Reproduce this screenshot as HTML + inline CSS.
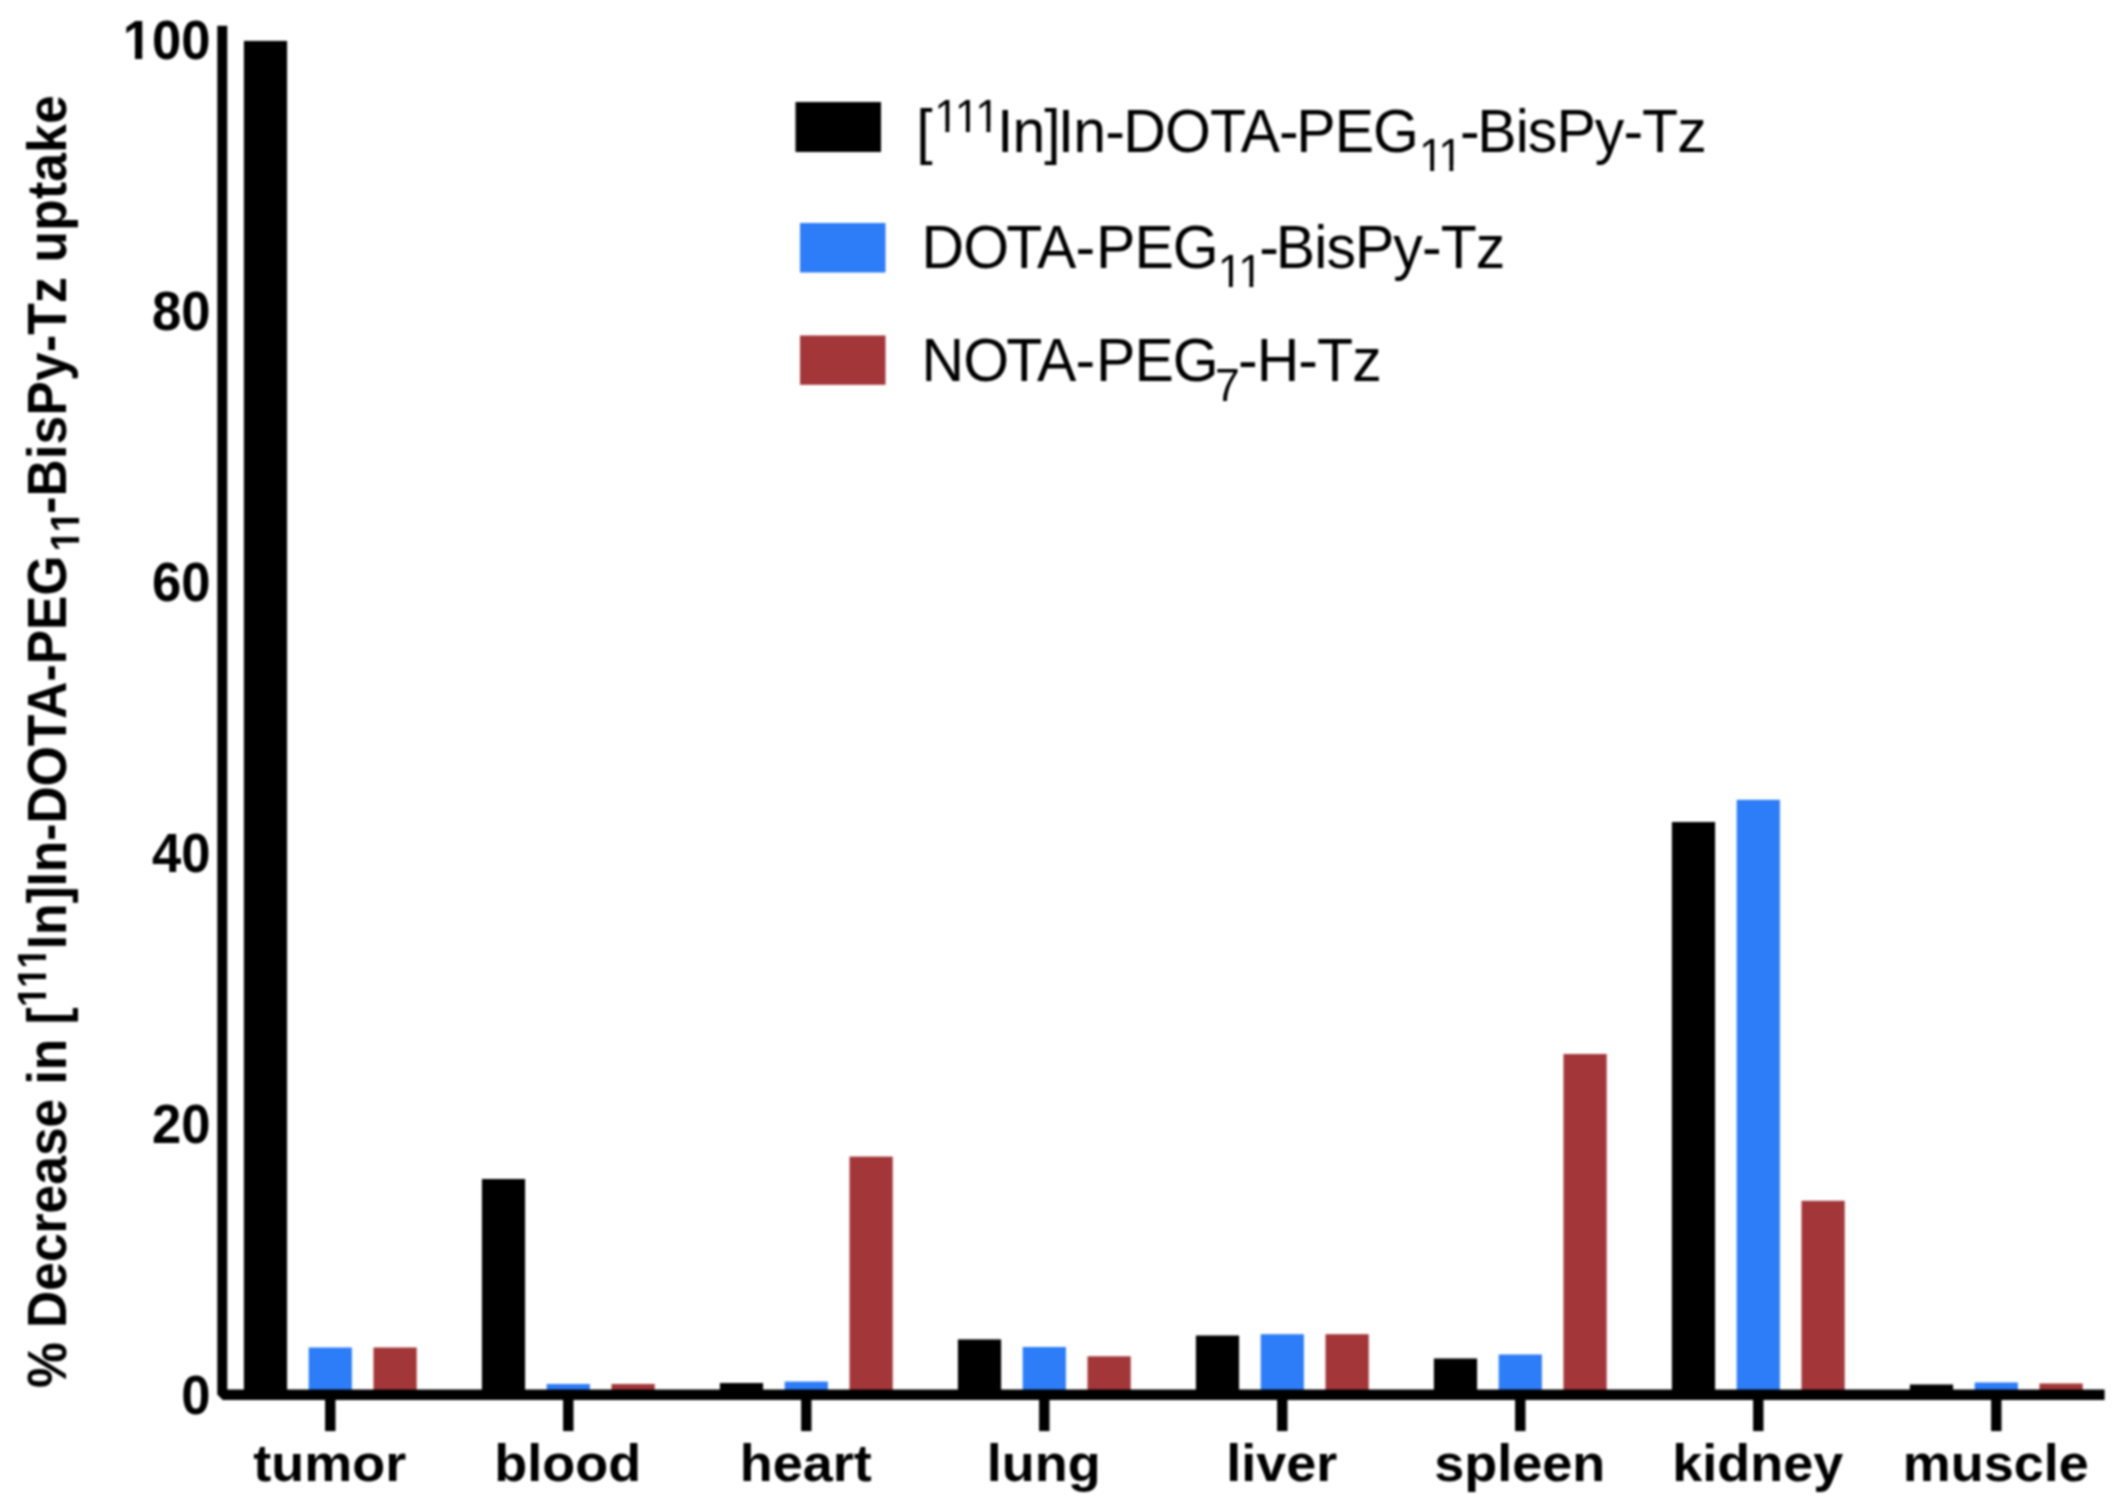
<!DOCTYPE html>
<html lang="en">
<head>
<meta charset="utf-8">
<title>% Decrease in [111In]In-DOTA-PEG11-BisPy-Tz uptake</title>
<style>
html,body{margin:0;padding:0;background:#fff;}
body{width:2123px;height:1511px;overflow:hidden;}
svg{display:block;filter:blur(1px);}
text{font-family:"Liberation Sans",Arial,Helvetica,sans-serif;fill:#000;}
.xl{font-size:54px;font-weight:bold;text-anchor:middle;}
.yl{font-size:52.6px;font-weight:bold;text-anchor:end;}
.lg{font-size:59px;letter-spacing:-0.93px;}
.ti{font-size:51.5px;font-weight:bold;}
</style>
</head>
<body>
<svg width="2123" height="1511" viewBox="0 0 2123 1511">
<rect x="0" y="0" width="2123" height="1511" fill="#fff"/>
<defs>
<clipPath id="c_t_y100"><path clip-rule="evenodd" d="M-4000,-4000H8000V8000H-4000Z M-85.95,-6.97H-75.48V1.50H-85.95Z M-68.27,-6.97H-58.47V1.50H-68.27Z"/></clipPath>
<clipPath id="c_t_title"><path clip-rule="evenodd" d="M-4000,-4000H8000V8000H-4000Z M381.61,-24.23H389.67V-17.20H381.61Z M394.95,-24.23H408.94V-17.20H394.95Z M414.22,-24.23H428.22V-17.20H414.22Z M433.50,-24.23H441.08V-17.20H433.50Z M837.38,6.97H845.44V14.00H837.38Z M850.72,6.97H864.71V14.00H850.72Z M869.99,6.97H877.56V14.00H869.99Z"/></clipPath>
<clipPath id="c_t_lg1"><path clip-rule="evenodd" d="M-4000,-4000H8000V8000H-4000Z M936.09,-23.56H945.39V-17.14H936.09Z M949.32,-23.56H965.89V-17.14H949.32Z M969.83,-23.56H986.40V-17.14H969.83Z M990.33,-23.56H999.28V-17.14H990.33Z M1420.89,13.82H1430.19V20.24H1420.89Z M1434.12,13.82H1449.42V20.24H1434.12Z M1453.35,13.82H1462.30V20.24H1453.35Z"/></clipPath>
<clipPath id="c_t_lg2"><path clip-rule="evenodd" d="M-4000,-4000H8000V8000H-4000Z M1219.59,13.82H1228.89V20.24H1219.59Z M1232.82,13.82H1249.39V20.24H1232.82Z M1253.33,13.82H1262.28V20.24H1253.33Z"/></clipPath>
</defs>
<g id="bars">
<rect x="243.9" y="40.9" width="43.2" height="1350.6" fill="#000"/>
<rect x="308.7" y="1347.5" width="43.2" height="44.0" fill="#2d7cf8"/>
<rect x="373.5" y="1347.5" width="43.2" height="44.0" fill="#a23639"/>
<rect x="481.9" y="1179.0" width="43.2" height="212.5" fill="#000"/>
<rect x="546.7" y="1384.0" width="43.2" height="7.5" fill="#2d7cf8"/>
<rect x="611.5" y="1384.0" width="43.2" height="7.5" fill="#a23639"/>
<rect x="719.9" y="1383.0" width="43.2" height="8.5" fill="#000"/>
<rect x="784.7" y="1381.6" width="43.2" height="9.9" fill="#2d7cf8"/>
<rect x="849.5" y="1156.6" width="43.2" height="234.9" fill="#a23639"/>
<rect x="957.9" y="1339.4" width="43.2" height="52.1" fill="#000"/>
<rect x="1022.7" y="1347.0" width="43.2" height="44.5" fill="#2d7cf8"/>
<rect x="1087.5" y="1356.3" width="43.2" height="35.2" fill="#a23639"/>
<rect x="1195.9" y="1335.5" width="43.2" height="56.0" fill="#000"/>
<rect x="1260.7" y="1334.2" width="43.2" height="57.3" fill="#2d7cf8"/>
<rect x="1325.5" y="1334.2" width="43.2" height="57.3" fill="#a23639"/>
<rect x="1433.9" y="1358.5" width="43.2" height="33.0" fill="#000"/>
<rect x="1498.7" y="1354.5" width="43.2" height="37.0" fill="#2d7cf8"/>
<rect x="1563.5" y="1054.0" width="43.2" height="337.5" fill="#a23639"/>
<rect x="1671.9" y="822.0" width="43.2" height="569.5" fill="#000"/>
<rect x="1736.7" y="799.8" width="43.2" height="591.7" fill="#2d7cf8"/>
<rect x="1801.5" y="1200.8" width="43.2" height="190.7" fill="#a23639"/>
<rect x="1909.9" y="1384.5" width="43.2" height="7.0" fill="#000"/>
<rect x="1974.7" y="1382.5" width="43.2" height="9.0" fill="#2d7cf8"/>
<rect x="2039.5" y="1383.5" width="43.2" height="8.0" fill="#a23639"/>
</g>
<g id="axes" fill="#000">
<path d="M217.3,25.8 H227.3 V1389.5 H2104.6 V1399.9 H222.8 L217.3,1394.4 Z"/>
<rect x="325.1" y="1398.9" width="10.4" height="32.2"/>
<rect x="563.1" y="1398.9" width="10.4" height="32.2"/>
<rect x="801.1" y="1398.9" width="10.4" height="32.2"/>
<rect x="1039.1" y="1398.9" width="10.4" height="32.2"/>
<rect x="1277.1" y="1398.9" width="10.4" height="32.2"/>
<rect x="1515.1" y="1398.9" width="10.4" height="32.2"/>
<rect x="1753.1" y="1398.9" width="10.4" height="32.2"/>
<rect x="1991.1" y="1398.9" width="10.4" height="32.2"/>
</g>
<g id="xlabels">
<text class="xl" transform="translate(329.8,1480.8) scale(1,0.97)">tumor</text>
<text class="xl" transform="translate(567.8,1480.8) scale(1,0.97)">blood</text>
<text class="xl" transform="translate(805.8,1480.8) scale(1,0.97)">heart</text>
<text class="xl" transform="translate(1043.8,1480.8) scale(1,0.97)">lung</text>
<text class="xl" transform="translate(1281.8,1480.8) scale(1,0.97)">liver</text>
<text class="xl" transform="translate(1519.8,1480.8) scale(1,0.97)">spleen</text>
<text class="xl" transform="translate(1757.8,1480.8) scale(1,0.97)">kidney</text>
<text class="xl" transform="translate(1995.8,1480.8) scale(1,0.97)">muscle</text>
</g>
<g id="ylabels">
<text class="yl" transform="translate(210.5,1413.6) scale(1,1.04)">0</text>
<text class="yl" transform="translate(210.5,1142.6) scale(1,1.04)">20</text>
<text class="yl" transform="translate(210.5,871.6) scale(1,1.04)">40</text>
<text class="yl" transform="translate(210.5,600.6) scale(1,1.04)">60</text>
<text class="yl" transform="translate(210.5,329.6) scale(1,1.04)">80</text>
<text id="t_y100" clip-path="url(#c_t_y100)" class="yl" transform="translate(210.5,58.6) scale(1,1.04)">100</text>
</g>
<text id="t_title" clip-path="url(#c_t_title)" class="ti" transform="translate(66,1388) rotate(-90) scale(1,1.07)">% Decrease in [<tspan font-size="38.5" dy="-18.7">111</tspan><tspan dx="-2" dy="18.7">In]In-DOTA-PEG</tspan><tspan font-size="38.5" dx="4" dy="12.5">11</tspan><tspan dx="-3" dy="-12.5" letter-spacing="0.25">-BisPy-Tz uptake</tspan></text>
<g id="legend">
<rect x="795.5" y="102" width="85.5" height="50" fill="#000"/>
<rect x="800" y="223" width="85.5" height="49.5" fill="#2d7cf8"/>
<rect x="800" y="335.5" width="85.5" height="49.3" fill="#a23639"/>
<text id="t_lg1" clip-path="url(#c_t_lg1)" class="lg" transform="translate(0,151.5) scale(1,1.03)"><tspan x="916.3">[</tspan><tspan x="934.2" font-size="44.5" dy="-18.64">111</tspan><tspan x="997" dy="18.64">In]</tspan><tspan x="1057.8">In-</tspan><tspan x="1123.3">DOTA-</tspan><tspan x="1296.3">PEG</tspan><tspan x="1419" font-size="44.5" dy="18.74" letter-spacing="-2.2">11</tspan><tspan x="1460" dy="-18.74">-</tspan><tspan x="1477.3">BisPy-Tz</tspan></text>
<text id="t_lg2" clip-path="url(#c_t_lg2)" class="lg" transform="translate(0,267.8) scale(1,1.03)"><tspan x="921.5" dx="0 0 -1.8">DOTA-</tspan><tspan x="1096">PEG</tspan><tspan x="1217.7" font-size="44.5" dy="18.74">11</tspan><tspan x="1259.3" dy="-18.74">-</tspan><tspan x="1275.8">BisPy-Tz</tspan></text>
<text class="lg" transform="translate(0,381.2) scale(1,1.03)"><tspan x="921.5" dx="0 0 -1.8">NOTA-</tspan><tspan x="1096">PEG</tspan><tspan x="1215" font-size="44.5" dy="18.74">7</tspan><tspan x="1238" dy="-18.74">-H-Tz</tspan></text>
</g>
</svg>
</body>
</html>
